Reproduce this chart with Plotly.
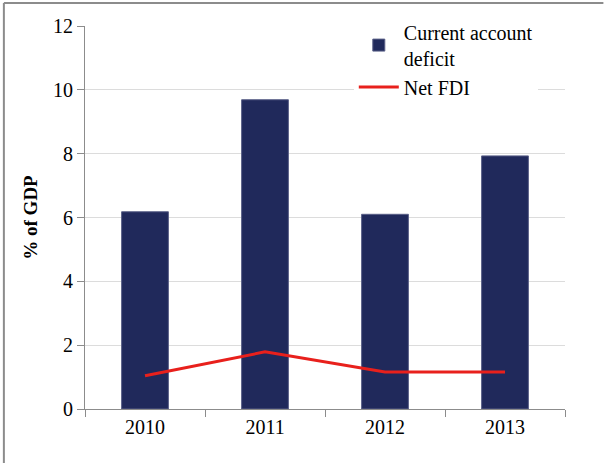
import plotly.graph_objects as go

years = ["2010", "2011", "2012", "2013"]
current_account_deficit = [6.18, 9.69, 6.10, 7.93]
net_fdi = [1.04, 1.79, 1.16, 1.16]
y_ticks = [0, 2, 4, 6, 8, 10, 12]

font_family = "Liberation Serif, Times New Roman, serif"

fig = go.Figure()
fig.add_trace(go.Bar(
    x=years, y=current_account_deficit, name="Current account<br>deficit",
    marker=dict(color="#20295b", line=dict(color="#5a6088", width=1)),
))
fig.add_trace(go.Scatter(
    x=years, y=net_fdi, name="Net FDI", mode="lines",
    line=dict(color="#e8201c", width=3),
))

fig.update_layout(
    width=604, height=463,
    margin=dict(l=85, r=39, t=26, b=54),
    paper_bgcolor="white", plot_bgcolor="white",
    font=dict(family=font_family, size=20, color="black"),
    bargap=0.61,
    showlegend=True,
    legend=dict(
        x=0.56, y=1.035, xanchor="left", yanchor="top",
        bgcolor="white", font=dict(size=20, family=font_family),
        tracegroupgap=0, itemwidth=40,
    ),
    xaxis=dict(
        automargin=False,
        showline=True, linecolor="#8c8c8c", linewidth=1,
        ticks="outside", tickson="boundaries", ticklen=7, tickcolor="#8c8c8c",
        tickfont=dict(size=20), showgrid=False,
    ),
    yaxis=dict(
        automargin=False,
        range=[0, 12], tickvals=y_ticks,
        showline=True, linecolor="#8c8c8c", linewidth=1,
        ticks="outside", ticklen=7, tickcolor="#8c8c8c",
        showgrid=True, gridcolor="#dcdcdc", gridwidth=1,
        zeroline=False,
        tickfont=dict(size=20),
        title=dict(text="<b>% of GDP</b>", font=dict(size=19), standoff=10),
    ),
    shapes=[
        dict(type="line", xref="paper", yref="paper", x0=-0.169, x1=-0.169, y0=-0.2, y1=1.06,
             line=dict(color="#8c8c8c", width=2)),
        dict(type="line", xref="paper", yref="paper", x0=-0.169, x1=1.08, y0=1.06, y1=1.06,
             line=dict(color="#8c8c8c", width=2)),
    ],
)

fig.write_html("out.html", config={"displayModeBar": False},
               post_script="document.body.style.margin='0';")
